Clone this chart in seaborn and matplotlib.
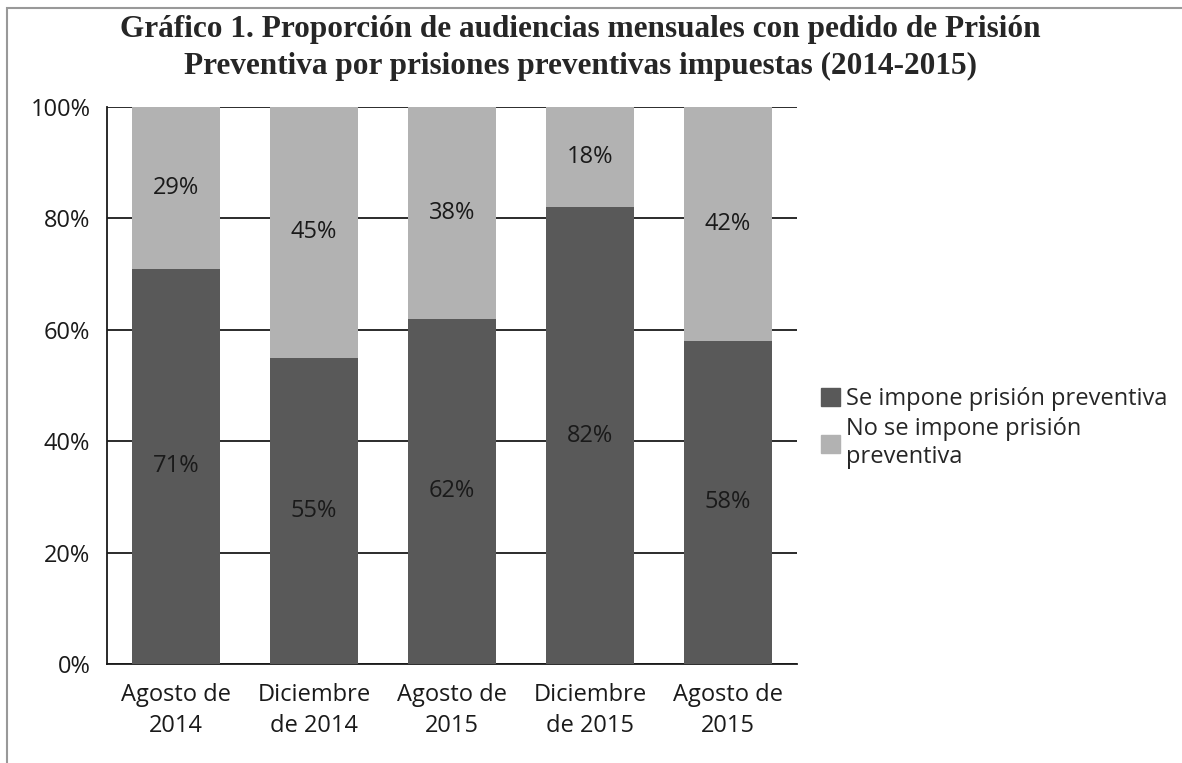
import matplotlib.pyplot as plt
import matplotlib.patches as mpatches
import numpy as np
import pandas as pd
import seaborn as sns

categorias = ['Agosto de\n2014', 'Diciembre\nde 2014', 'Agosto de\n2015', 'Diciembre\nde 2015', 'Agosto de\n2015']
impone = [71, 55, 62, 82, 58]
no_impone = [29, 45, 38, 18, 42]

df = pd.DataFrame({'cat': categorias, 'impone': impone, 'no_impone': no_impone})
df['total'] = df['impone'] + df['no_impone']
df['pos'] = range(len(df))

oscuro = '#595959'
claro = '#b2b2b2'
fs = 17

sns.set_style('white')
plt.rcParams['font.family'] = ['Open Sans', 'DejaVu Sans']

fig = plt.figure(figsize=(11.82, 7.63), dpi=100)
ax = fig.add_axes([107 / 1182, 1 - 664 / 763, 690 / 1182, 557 / 763])

sns.barplot(x='pos', y='total', data=df, color=claro, width=0.64, ax=ax,
            saturation=1, zorder=3, linewidth=0)
sns.barplot(x='pos', y='impone', data=df, color=oscuro, width=0.64, ax=ax,
            saturation=1, zorder=3, linewidth=0)

for i, (a, b) in enumerate(zip(impone, no_impone)):
    ax.text(i, a / 2, f'{a}%', ha='center', va='center', fontsize=fs, color='#1a1a1a', zorder=4)
    ax.text(i, a + b / 2, f'{b}%', ha='center', va='center', fontsize=fs, color='#1a1a1a', zorder=4)

ax.set_ylim(0, 100)
ax.set_xlim(-0.5, len(df) - 0.5)
ax.set_yticks(np.arange(0, 101, 20))
ax.set_yticklabels([f'{v}%' for v in range(0, 101, 20)])
ax.set_xticks(range(len(df)))
ax.set_xticklabels(categorias, linespacing=1.35)
ax.tick_params(axis='both', labelsize=fs, colors='#1a1a1a', length=0)
ax.tick_params(axis='x', pad=14)
ax.tick_params(axis='y', pad=12)
ax.set_xlabel('')
ax.set_ylabel('')
ax.yaxis.grid(True, color='#1a1a1a', linewidth=1.3, zorder=0)
ax.set_axisbelow(True)
for s in ['top', 'right']:
    ax.spines[s].set_visible(False)
for s in ['left', 'bottom']:
    ax.spines[s].set_color('#1a1a1a')
    ax.spines[s].set_linewidth(1.3)

handles = [mpatches.Patch(color=oscuro, label='Se impone prisión preventiva'),
           mpatches.Patch(color=claro, label='No se impone prisión\npreventiva')]
fig.legend(handles=handles, loc='upper left', bbox_to_anchor=(812 / 1182, 1 - 378 / 763),
           frameon=False, fontsize=fs, handlelength=0.8, handleheight=0.8,
           handletextpad=0.25, labelspacing=0.25, borderaxespad=0)

fig.text(580 / 1182, 1 - 48 / 763,
         'Gráfico 1. Proporción de audiencias mensuales con pedido de Prisión\n'
         'Preventiva por prisiones preventivas impuestas (2014-2015)',
         ha='center', va='center', fontsize=22.5, fontweight='bold',
         family='Liberation Serif', linespacing=1.4)

fig.add_artist(mpatches.Rectangle((7 / 1182, -0.1), 1.2, (1 - 8 / 763) + 0.1,
                                  transform=fig.transFigure, fill=False,
                                  edgecolor='#999999', linewidth=1.5))

fig.savefig('out.png', dpi=100)
